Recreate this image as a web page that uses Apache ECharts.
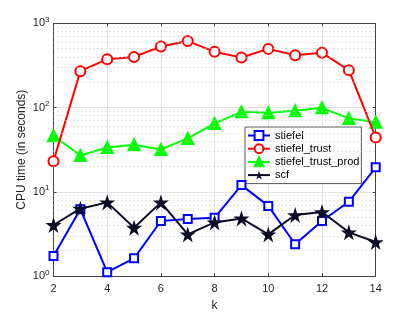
<!DOCTYPE html>
<html><head><meta charset="utf-8">
<script src="https://cdn.jsdelivr.net/npm/echarts@6/dist/echarts.min.js"></script>
<style>html,body{margin:0;padding:0;background:#fff}#c{width:415px;height:312px}</style>
</head><body><div id="c"></div>
<script>
const ks = [2,3,4,5,6,7,8,9,10,11,12,13,14];
const stiefel = [1.73,6.2,1.11,1.62,4.5,4.75,4.9,12.0,6.8,2.38,4.5,7.6,19.5];
const stiefelTrust = [23.1,270,375,399,531,618,458,393,497,418,446,278,44.2];
const stiefelTrustProd = [46.2,27,33.6,36.1,31.8,43,64.8,88.9,86.5,91.4,99.2,74.3,67.1];
const scf = [4.03,6.29,7.48,3.74,7.48,3.12,4.33,4.83,3.12,5.29,5.74,3.30,2.53];
const minorGrid = [2,3,4,5,6,7,8,9,20,30,40,50,60,70,80,90,200,300,400,500,600,700,800,900];
const font = 'Liberation Sans';
const txt = '#262626';

const pair = a => a.map((v,i)=>[ks[i], v]);
const chart = echarts.init(document.getElementById('c'), null, {renderer:'canvas'});
const tickFmt = v => { const e = Math.round(Math.log10(v)); return '10{s|' + e + '}'; };
const rich = { s: { fontSize: 8, fontFamily: font, color: txt, padding: [0,0,7,0] } };

chart.setOption({
  animation: false,
  backgroundColor: '#fff',
  grid: { left: 53.5, right: 39.3, top: 23.3, bottom: 36, show: false, outerBoundsMode: 'none', containLabel: false },
  legend: {
    orient: 'vertical', left: 245, top: 127,
    backgroundColor: '#fff', borderColor: '#555', borderWidth: 1,
    padding: [3, 2, 3, 2], itemGap: 2.2, itemWidth: 22, itemHeight: 11,
    textStyle: { fontFamily: font, fontSize: 11, color: '#000', width: 78, overflow: 'none' },
    data: ['stiefel','stiefel_trust','stiefel_trust_prod','scf']
  },
  xAxis: [{
    type: 'value', min: 2, max: 14, interval: 2,
    name: 'k', nameLocation: 'middle', nameGap: 24, nameMoveOverlap: false,
    nameTextStyle: { fontFamily: font, fontSize: 12, color: txt },
    axisLine: { show: true, onZero: false, lineStyle: { color: '#444', width: 1 } },
    axisTick: { show: true, inside: true, length: 3, lineStyle: { color: '#444' } },
    axisLabel: { fontFamily: font, fontSize: 11, color: txt, margin: 7 },
    splitLine: { show: true, lineStyle: { color: '#e3e3e3', width: 1 } }
  },{
    type: 'value', min: 2, max: 14, interval: 2, position: 'top',
    axisLine: { show: true, onZero: false, lineStyle: { color: '#444', width: 1 } },
    axisTick: { show: true, inside: true, length: 3, lineStyle: { color: '#444' } },
    axisLabel: { show: false }, splitLine: { show: false }
  }],
  yAxis: [{
    type: 'log', logBase: 10, min: 1, max: 1000,
    name: 'CPU time (in seconds)', nameLocation: 'middle', nameGap: 26, nameMoveOverlap: false,
    nameTextStyle: { fontFamily: font, fontSize: 12, color: txt },
    axisLine: { show: true, onZero: false, lineStyle: { color: '#444', width: 1 } },
    axisTick: { show: true, inside: true, length: 3, lineStyle: { color: '#444' } },
    axisLabel: { fontFamily: font, fontSize: 11, color: txt, margin: 4, formatter: tickFmt, rich: rich },
    splitLine: { show: true, lineStyle: { color: '#e3e3e3', width: 1 } }
  },{
    type: 'log', logBase: 10, min: 1, max: 1000, position: 'right',
    axisLine: { show: true, onZero: false, lineStyle: { color: '#444', width: 1 } },
    axisTick: { show: true, inside: true, length: 3, lineStyle: { color: '#444' } },
    axisLabel: { show: false }, splitLine: { show: false }
  }],
  series: [
    {
      name: '_minor', type: 'line', data: [], silent: true,
      markLine: {
        silent: true, symbol: ['none','none'], animation: false,
        label: { show: false },
        lineStyle: { color: '#cfcfcf', type: [1,3], width: 1 },
        data: minorGrid.map(v => ({ yAxis: v }))
      }
    },
    {
      name: 'stiefel', type: 'line', data: pair(stiefel),
      lineStyle: { color: '#0000ff', width: 2 },
      itemStyle: { color: '#0000ff', borderColor: '#0000ff', borderWidth: 1.8 },
      symbol: 'emptyRect', symbolSize: 8, z: 5
    },
    {
      name: 'stiefel_trust', type: 'line', data: pair(stiefelTrust),
      lineStyle: { color: '#ff0000', width: 2 },
      itemStyle: { color: '#ff0000', borderColor: '#ff0000', borderWidth: 2 },
      symbol: 'emptyCircle', symbolSize: 10, z: 4
    },
    {
      name: 'stiefel_trust_prod', type: 'line', data: pair(stiefelTrustProd),
      lineStyle: { color: '#00ff00', width: 2 },
      itemStyle: { color: '#00ff00', borderColor: '#00ff00', borderWidth: 2 },
      symbol: 'triangle', symbolSize: 11, z: 3
    },
    {
      name: 'scf', type: 'line', data: pair(scf),
      lineStyle: { color: '#0a0a26', width: 2 },
      itemStyle: { color: '#0a0a26' },
      symbol: 'path://M50,0 L61.8,35.5 L100,35.5 L69.1,57.5 L80.9,93 L50,71 L19.1,93 L30.9,57.5 L0,35.5 L38.2,35.5 Z',
      symbolSize: 16, z: 6
    }
  ]
});
</script></body></html>
